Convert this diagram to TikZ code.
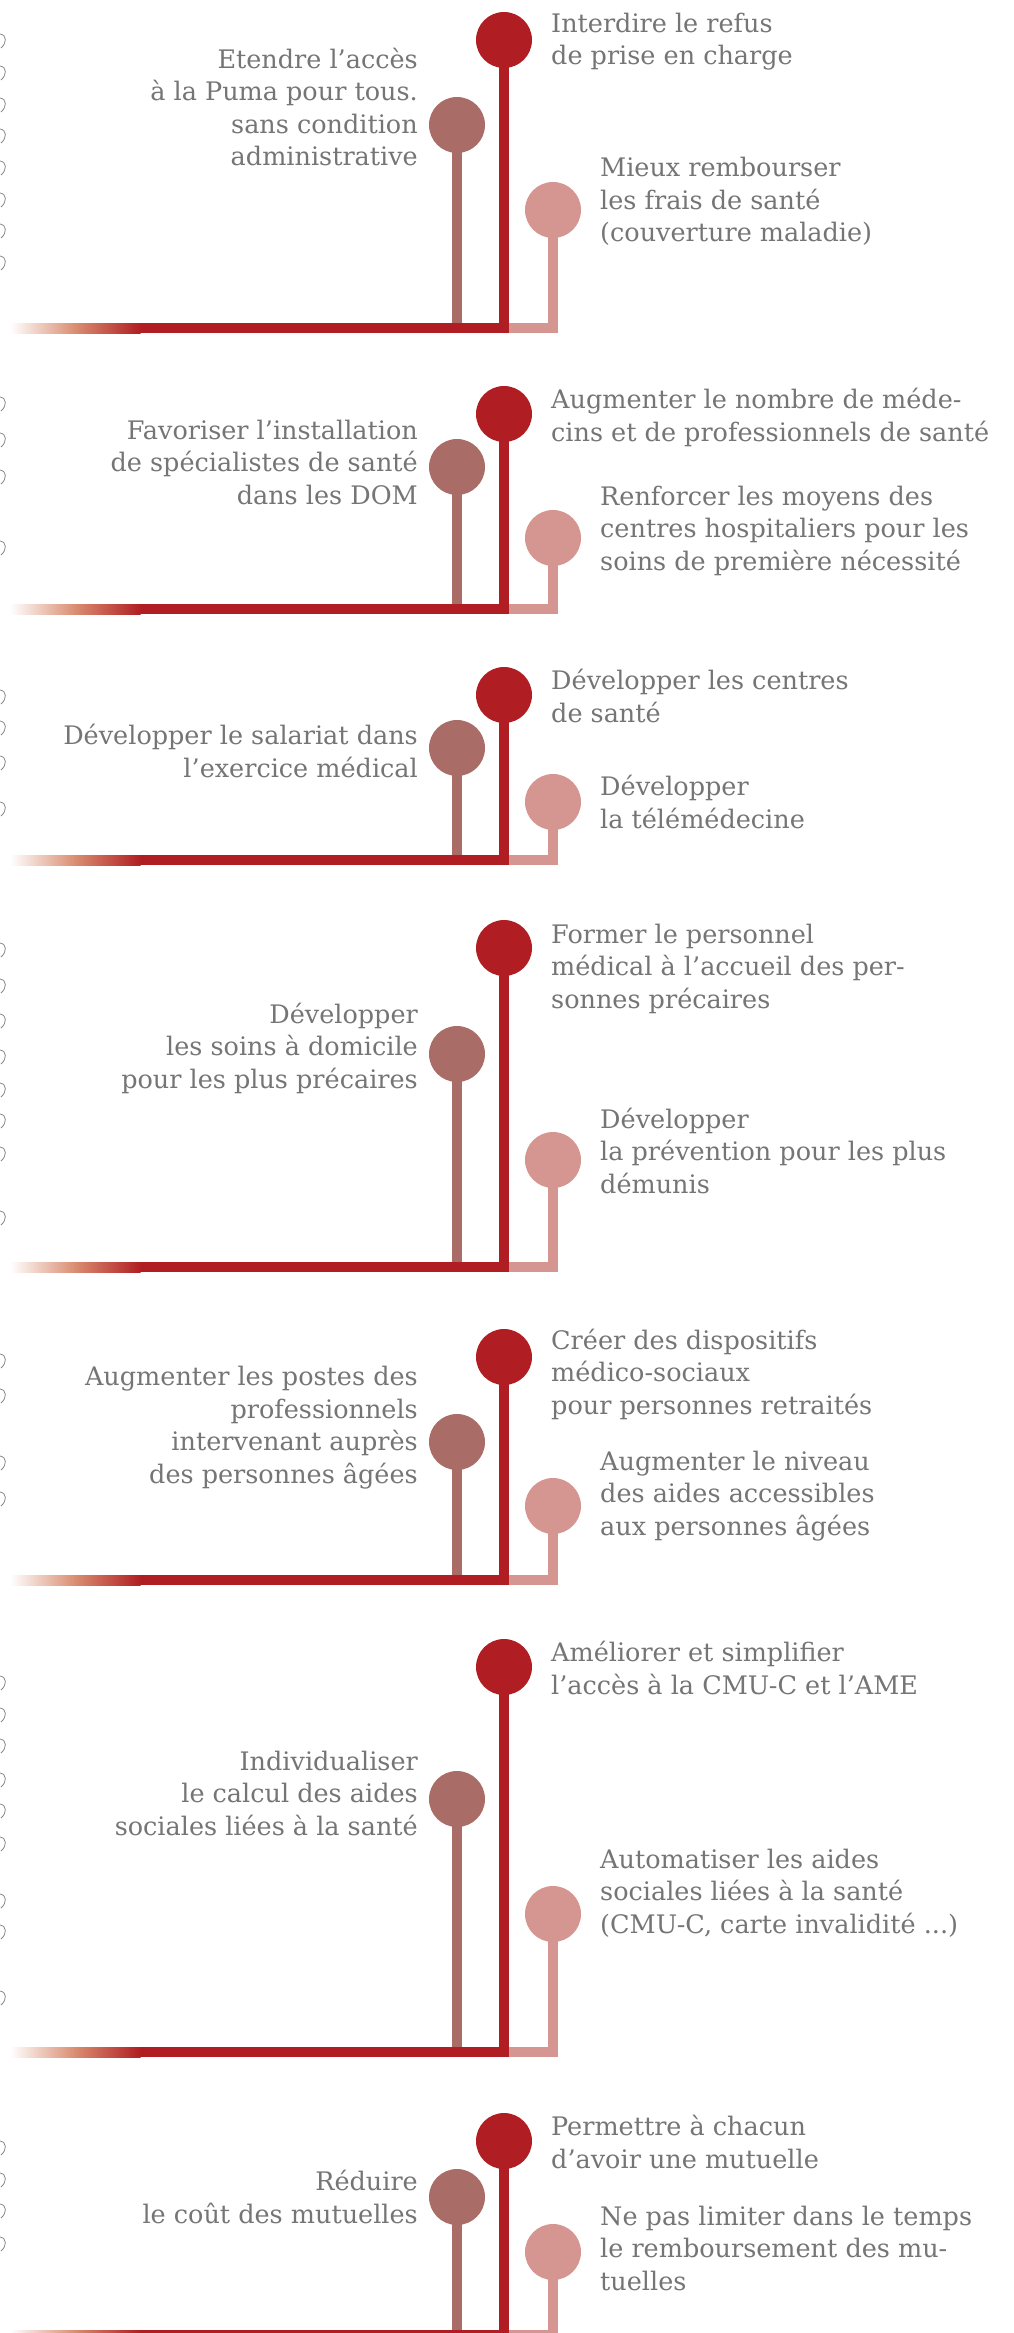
\documentclass[tikz,border=0pt]{standalone}
\usepackage{fontspec}
\setmainfont{DejaVu Serif}
\definecolor{barred}{HTML}{B01E23}
\definecolor{stembrown}{HTML}{AA6C66}
\definecolor{stempink}{HTML}{D59590}
\definecolor{fadeorange}{HTML}{D98C70}
\definecolor{labelgray}{HTML}{757575}
\definecolor{markgray}{HTML}{8A8A8A}

\begin{document}
\begin{tikzpicture}[
  x=1pt, y=-1pt,
  dot/.style={circle, fill, inner sep=0pt, minimum size=56pt},
  stem/.style={line width=10pt},
  label/.style={inner sep=0pt, text=labelgray, font=\fontsize{25.5}{32.5}\selectfont},
  leftlabel/.style={label, anchor=base east, align=right},
  redlabel/.style={label, anchor=base west, align=left},
  pinklabel/.style={label, anchor=base west, align=left},
  cutmark/.style={draw=markgray, line width=0.8pt}
]
\useasboundingbox (0,0) rectangle (1013,2333);
\clip (0,0) rectangle (1013,2333);

% three stems per block, joined by the bar
\foreach \i/\yr/\yb/\yp/\ybar in {1/40/125/210/328, 2/414/467/538/609, 3/695/748/802/860,
    4/948/1054/1160/1267, 5/1357/1442/1506/1580, 6/1667/1799/1914/2052, 7/2141/2197/2252/2335}{
  \node[dot, stembrown] (br\i) at (457,\yb) {};
  \node[dot, stempink] (pk\i) at (553,\yp) {};
  \node[dot, barred] (rd\i) at (504,\yr) {};
  \coordinate (jb\i) at (457,\ybar);
  \coordinate (jr\i) at (504,\ybar);
  \coordinate (fade\i) at (140,\ybar);
  \draw[stem, stembrown] (br\i.center) -- (jb\i);
  \draw[stem, stempink] (pk\i.center) |- (jr\i);
  \draw[stem, barred] (rd\i.center) |- (fade\i);
  \shade[left color=white, right color=fadeorange] (10,\ybar-5) rectangle (76,\ybar+5);
  \shade[left color=fadeorange, right color=barred] (75.5,\ybar-5) rectangle (140.5,\ybar+5);
}

% cut-off marks on the left edge
\foreach \y in {43,75,107,138,170,202,233,265, 406,442,479,550, 699,730,765,811,
    952,988,1023,1059,1092,1123,1156,1220, 1363,1398,1465,1501,
    1685,1717,1748,1782,1813,1846,1903,1934,2000, 2150,2182,2213,2246}
  \draw[cutmark] (0,\y-9) .. controls (7,\y-8) and (7,\y) .. (1,\y+5);

% labels: each is placed at the baseline of its last line
% block 1
\node[leftlabel] (l1) at (418,166) {Etendre l’accès\\à la Puma pour tous.\\sans condition\\administrative};
\node[redlabel] (r1) at (551,65) {Interdire le refus\\de prise en charge};
\node[pinklabel] (p1) at (600,242) {Mieux rembourser\\les frais de santé\\(couverture maladie)};

% block 2
\node[leftlabel] (l2) at (418,504) {Favoriser l’installation\\de spécialistes de santé\\dans les DOM};
\node[redlabel] (r2) at (551,441) {Augmenter le nombre de méde-\\cins et de professionnels de santé};
\node[pinklabel] (p2) at (600,570) {Renforcer les moyens des\\centres hospitaliers pour les\\soins de première nécessité};

% block 3
\node[leftlabel] (l3) at (418,777) {Développer le salariat dans\\l’exercice médical};
\node[redlabel] (r3) at (551,722) {Développer les centres\\de santé};
\node[pinklabel] (p3) at (600,828) {Développer\\la télémédecine};

% block 4
\node[leftlabel] (l4) at (418,1088) {Développer\\les soins à domicile\\pour les plus précaires};
\node[redlabel] (r4) at (551,1008) {Former le personnel\\médical à l’accueil des per-\\sonnes précaires};
\node[pinklabel] (p4) at (600,1193) {Développer\\la prévention pour les plus\\démunis};

% block 5
\node[leftlabel] (l5) at (418,1483) {Augmenter les postes des\\professionnels\\intervenant auprès\\des personnes âgées};
\node[redlabel] (r5) at (551,1414) {Créer des dispositifs\\médico-sociaux\\pour personnes retraités};
\node[pinklabel] (p5) at (600,1535) {Augmenter le niveau\\des aides accessibles\\aux personnes âgées};

% block 6
\node[leftlabel] (l6) at (418,1835) {Individualiser\\le calcul des aides\\sociales liées à la santé};
\node[redlabel] (r6) at (551,1694) {Améliorer et simplifier\\l’accès à la CMU-C et l’AME};
\node[pinklabel] (p6) at (600,1933) {Automatiser les aides\\sociales liées à la santé\\(CMU-C, carte invalidité ...)};

% block 7
\node[leftlabel] (l7) at (418,2223) {Réduire\\le coût des mutuelles};
\node[redlabel] (r7) at (551,2168) {Permettre à chacun\\d’avoir une mutuelle};
\node[pinklabel] (p7) at (600,2290) {Ne pas limiter dans le temps\\le remboursement des mu-\\tuelles};
\end{tikzpicture}
\end{document}
